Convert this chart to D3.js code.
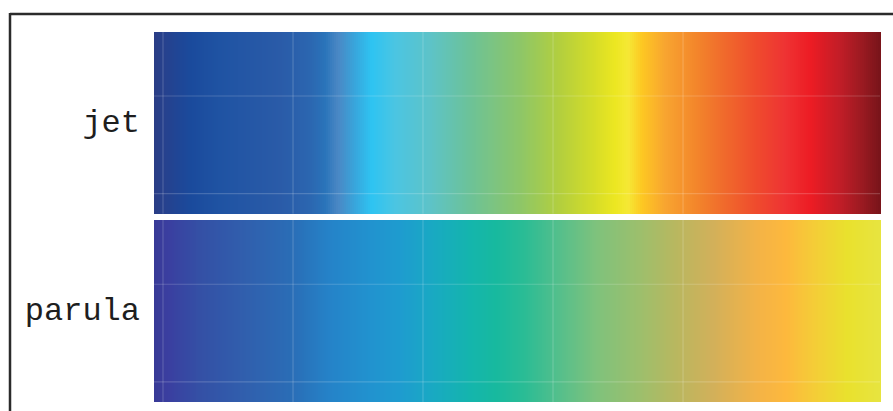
<!DOCTYPE html>
<html>
<head>
<meta charset="utf-8">
<script src="https://cdn.jsdelivr.net/npm/d3@7"></script>
<style>
  html, body { margin: 0; padding: 0; background: #fff; }
  svg { display: block; }
</style>
</head>
<body>
<svg id="chart" width="893" height="411"></svg>
<script>
// Colormap names (categories)
const colormaps = ["jet", "parula"];

// Color stops (position 0..1 along the bar, colour)
const jetPositions = [0, 0.015, 0.05, 0.09, 0.174, 0.215, 0.236, 0.253, 0.277, 0.30, 0.332, 0.38, 0.435, 0.504, 0.559, 0.607, 0.635, 0.653, 0.672, 0.704, 0.745, 0.787, 0.828, 0.869, 0.904, 0.945, 0.975, 1];
const jetColors = ["#2a3d85", "#26418e", "#1a4a9c", "#1f53a3", "#2a5ba8", "#2b66b0", "#2a74ba", "#4a87c4", "#38a6dc", "#2ec4f2", "#4bc5e2", "#5dc3c8", "#6cc298", "#8dc668", "#b3cf3e", "#d6dd28", "#ece721", "#f5e835", "#fdc822", "#f8a530", "#f3872b", "#f0692c", "#ef4c2d", "#ee3333", "#ed1c24", "#c11d27", "#9b1a21", "#78141a"];

const parulaPositions = [0, 0.02, 0.063, 0.13, 0.19, 0.24, 0.30, 0.34, 0.38, 0.435, 0.47, 0.51, 0.56, 0.61, 0.67, 0.72, 0.77, 0.83, 0.87, 0.91, 0.955, 1];
const parulaColors = ["#383a96", "#3a3fa0", "#3450a5", "#3060ae", "#2a6db6", "#2582c8", "#2193cf", "#1e9ccf", "#19a8c4", "#14b5ad", "#17b99f", "#2abc95", "#56bf8b", "#7fc27c", "#9dbf6c", "#b9b75f", "#d2b05a", "#f3b347", "#fdb83d", "#f4cd37", "#e9e12d", "#e7e440"];

// Faint grid positions (fractions of the bar)
const gridX = [0.0124, 0.1915, 0.3705, 0.5496, 0.7287];
const gridY = [0.354, 0.89];

const nCells = 363;

const svg = d3.select("#chart");

// Frame
svg.append("line").attr("x1", 10).attr("x2", 893).attr("y1", 14).attr("y2", 14)
  .attr("stroke", "#2b2b2b").attr("stroke-width", 2.5);
svg.append("line").attr("x1", 10).attr("x2", 10).attr("y1", 13).attr("y2", 411)
  .attr("stroke", "#2b2b2b").attr("stroke-width", 2.5);

const x = d3.scaleLinear().domain([0, 1]).range([154, 880]);
const y = d3.scaleBand().domain(colormaps).range([31.5, 402]).paddingInner(0.032);

const scales = {
  jet: d3.scaleLinear().domain(jetPositions).range(jetColors).interpolate(d3.interpolateRgb),
  parula: d3.scaleLinear().domain(parulaPositions).range(parulaColors).interpolate(d3.interpolateRgb)
};

const cells = d3.range(nCells).map(i => i / nCells);
const w = 1 / nCells;

colormaps.forEach(name => {
  const g = svg.append("g");
  const y0 = y(name), h = y.bandwidth();
  g.selectAll("rect").data(cells).join("rect")
    .attr("x", d => x(d))
    .attr("y", y0)
    .attr("width", d => x(d + w) - x(d) + 0.6)
    .attr("height", h)
    .attr("fill", d => scales[name](d + w / 2))
    .attr("shape-rendering", "crispEdges");

  const gy = d3.scaleLinear().domain([0, 1]).range([y0, y0 + h]);
  g.selectAll("line.gx").data(gridX).join("line").attr("class", "gx")
    .attr("x1", d => x(d)).attr("x2", d => x(d))
    .attr("y1", y0).attr("y2", y0 + h)
    .attr("stroke", "#ffffff").attr("stroke-opacity", 0.18).attr("stroke-width", 1.2);
  g.selectAll("line.gy").data(gridY).join("line").attr("class", "gy")
    .attr("x1", x(0)).attr("x2", x(1))
    .attr("y1", d => gy(d)).attr("y2", d => gy(d))
    .attr("stroke", "#ffffff").attr("stroke-opacity", 0.18).attr("stroke-width", 1.2);

  svg.append("text")
    .attr("x", 140)
    .attr("y", y0 + h / 2)
    .attr("dy", "0.3em")
    .attr("text-anchor", "end")
    .attr("font-family", "'Liberation Mono', 'DejaVu Sans Mono', monospace")
    .attr("font-size", 32)
    .attr("fill", "#1e1e1e")
    .text(name);
});
</script>
</body>
</html>
